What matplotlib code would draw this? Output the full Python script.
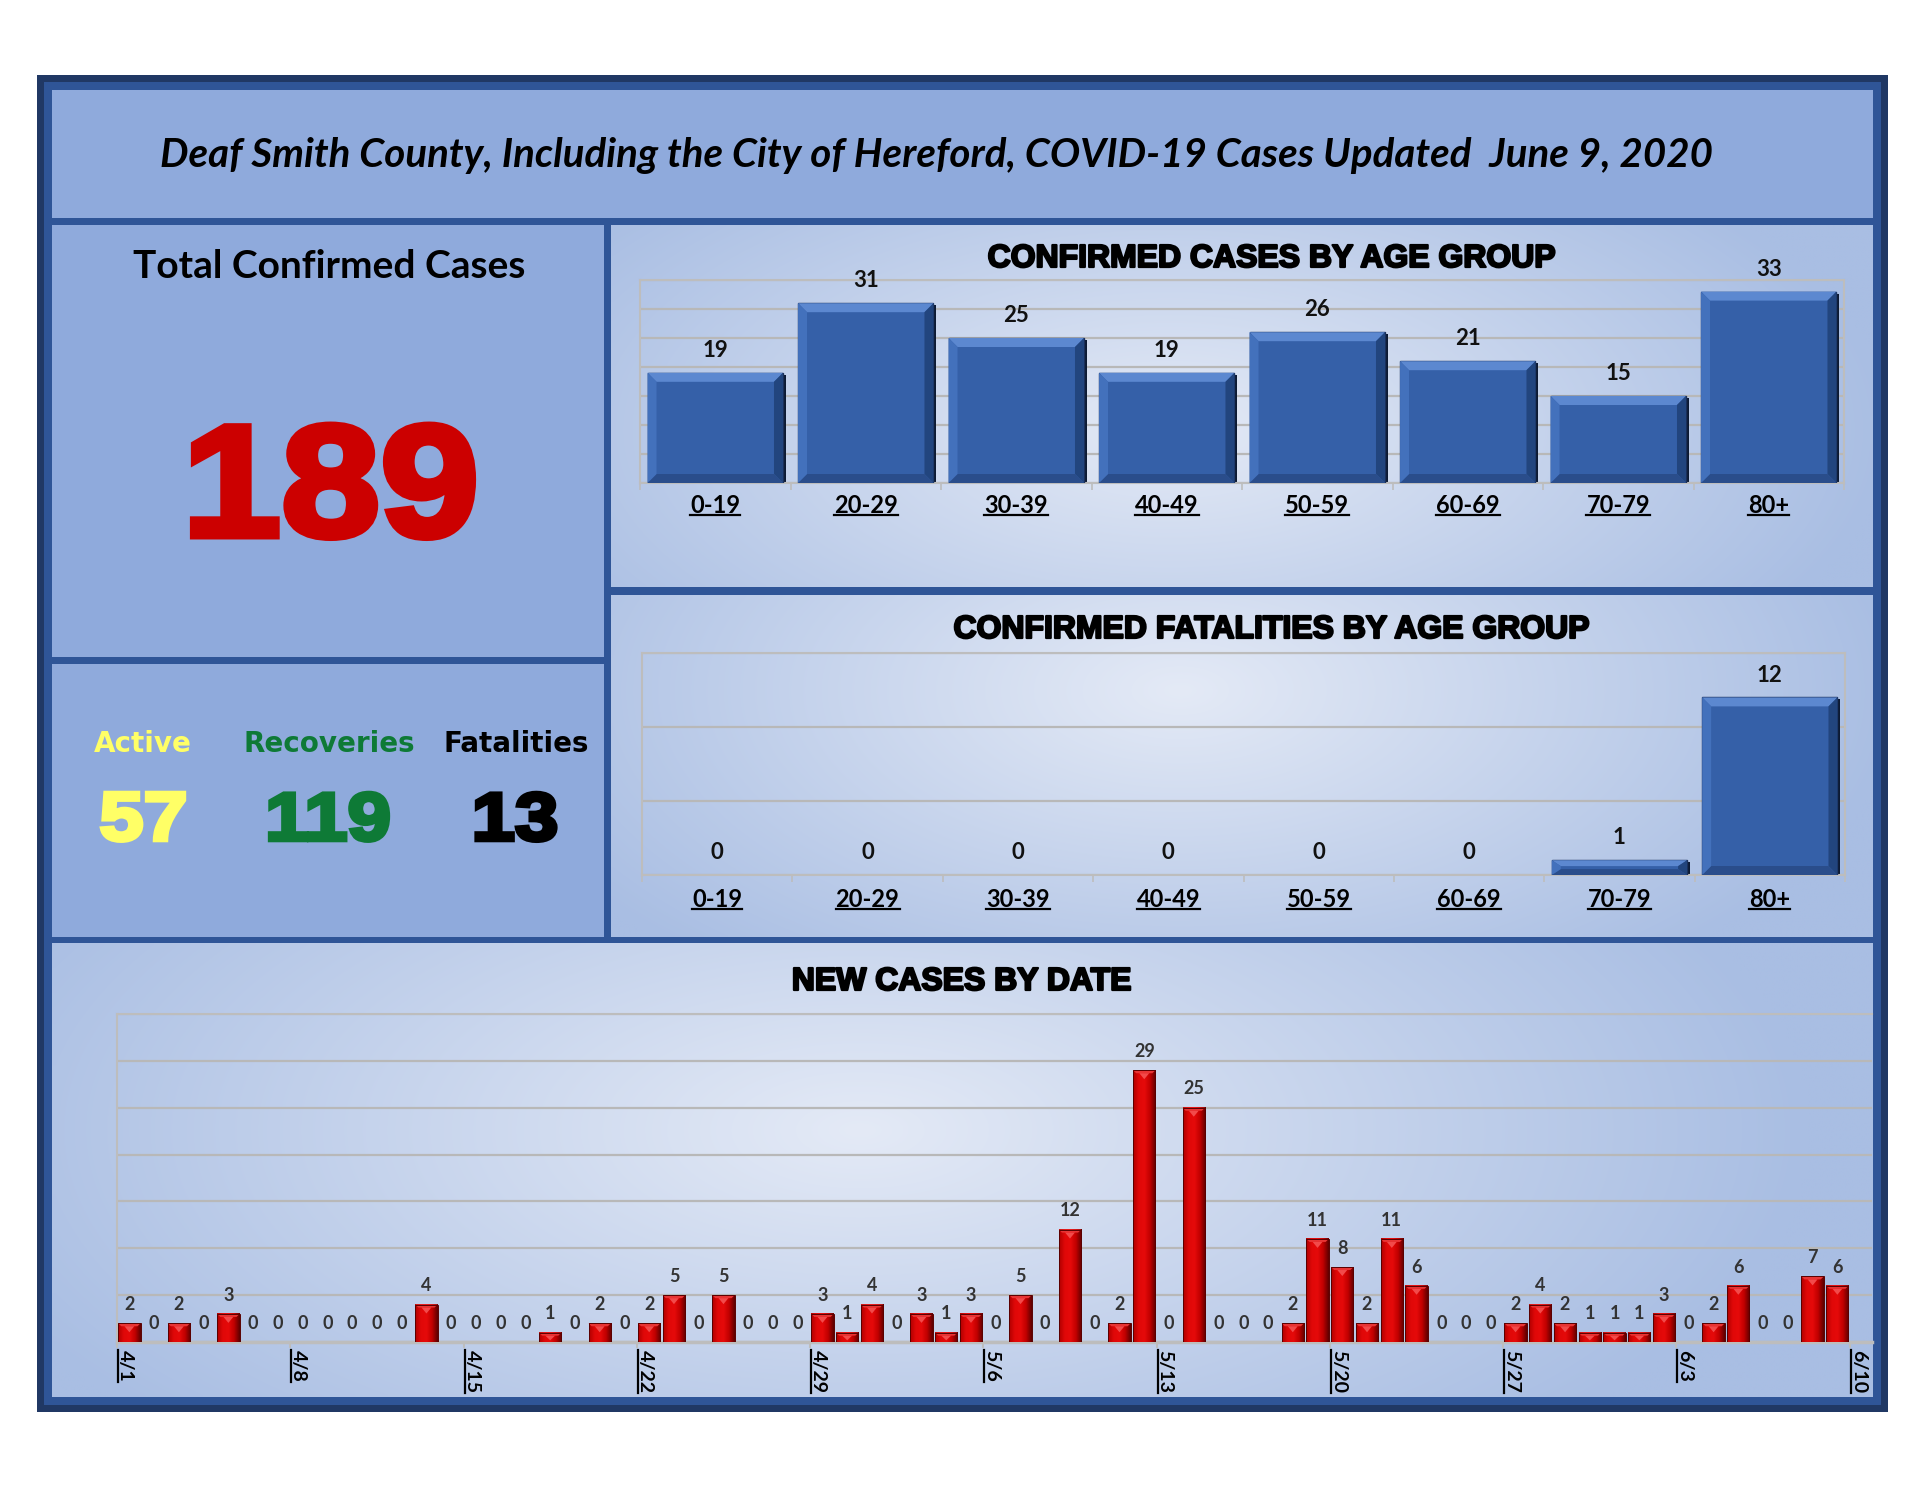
import numpy as np
import matplotlib
matplotlib.use('Agg')
import matplotlib.pyplot as plt
import matplotlib.patheffects as pe
from matplotlib.patches import Rectangle, Polygon, PathPatch
from matplotlib.lines import Line2D
from matplotlib.colors import LinearSegmentedColormap, to_rgb
from matplotlib.transforms import IdentityTransform, Affine2D
from matplotlib.textpath import TextPath
from matplotlib.font_manager import FontProperties

W, H = 1925, 1489

# ---- data ----
title_text = 'Deaf Smith County, Including the City of Hereford, COVID-19 Cases Updated  June 9, 2020'
age_groups = ['0-19', '20-29', '30-39', '40-49', '50-59', '60-69', '70-79', '80+']
cases_by_age = [19, 31, 25, 19, 26, 21, 15, 33]
deaths_by_age = [0, 0, 0, 0, 0, 0, 1, 12]
total_cases = 189
active = 57
recoveries = 119
fatalities = 13
# daily new cases 4/1 .. 6/9
new_cases = [2, 0, 2, 0, 3, 0, 0,     # 4/1-4/7
             0, 0, 0, 0, 0, 4, 0,     # 4/8-4/14
             0, 0, 0, 1, 0, 2, 0,     # 4/15-4/21
             2, 5, 0, 5, 0, 0, 0,     # 4/22-4/28
             3, 1, 4, 0, 3, 1, 3,     # 4/29-5/5
             0, 5, 0, 12, 0, 2, 29,   # 5/6-5/12
             0, 25, 0, 0, 0, 2, 11,   # 5/13-5/19
             8, 2, 11, 6, 0, 0, 0,    # 5/20-5/26
             2, 4, 2, 1, 1, 1, 3,     # 5/27-6/2
             0, 2, 6, 0, 0, 7, 6]     # 6/3-6/9
date_ticks = ['4/1', '4/8', '4/15', '4/22', '4/29', '5/6', '5/13', '5/20', '5/27', '6/3', '6/10']

PANEL = '#8FAADC'
SEP = '#2F5597'
NAVY = '#203864'


def fig_box(x0, y0, x1, y1):
    return [x0 / W, 1 - y1 / H, (x1 - x0) / W, (y1 - y0) / H]


def gradient(ax, x0, y0, x1, y1, cx, cy, rx, ry, inner='#E4EAF6', outer='#A9BEE3'):
    xs = np.linspace(x0, x1, 240)
    ys = np.linspace(y0, y1, 120)
    X, Y = np.meshgrid(xs, ys)
    t = np.clip(np.sqrt(((X - cx) / rx) ** 2 + ((Y - cy) / ry) ** 2), 0, 1)[..., None]
    img = np.array(to_rgb(inner)) * (1 - t) + np.array(to_rgb(outer)) * t
    ax.imshow(img, extent=(x0, x1, y1, y0), origin='upper', aspect='auto',
              interpolation='bilinear', zorder=1)


def big_number(ax, s, xc, baseline, height, color, stretch=1.12, stroke=4):
    # heavy, slightly widened digits (the original uses Arial Black)
    fp = FontProperties(family='Liberation Sans', weight='bold')
    tp = TextPath((0, 0), s, size=100, prop=fp)
    ext = tp.get_extents()
    k = (height - stroke * 1.2) / ext.y1
    tr = Affine2D().translate(-(ext.x0 + ext.x1) / 2, 0).scale(k * stretch, -k).translate(xc, baseline - stroke * 0.6)
    ax.add_patch(PathPatch(tr.transform_path(tp), fc=color, ec=color, lw=stroke, zorder=5))


def px_per_unit(ax):
    pos = ax.get_position()
    x0, x1 = ax.get_xlim()
    y0, y1 = ax.get_ylim()
    return pos.width * W / (x1 - x0), pos.height * H / (y1 - y0)


def blue_bars(ax, vals, w=0.9, bev=9):
    sx, sy = px_per_unit(ax)
    for i, v in enumerate(vals):
        if v <= 0:
            continue
        l, r = i - w / 2, i + w / 2
        bx = bev / sx
        by = min(bev / sy, v / 2.5)
        ax.add_patch(Rectangle((l + 3 / sx, 0), w, v - 2 / sy, fc='#0D1A33', ec='none', zorder=2.5))
        ax.add_patch(Rectangle((l, 0), w, v, fc='#3560A8', ec='#1A2F5A', lw=1, zorder=3))
        ax.add_patch(Polygon([(l, v), (r, v), (r - bx, v - by), (l + bx, v - by)], fc='#5C88D0', ec='none', zorder=3.1))
        ax.add_patch(Polygon([(r, v), (r, 0), (r - bx, by), (r - bx, v - by)], fc='#22457E', ec='none', zorder=3.1))
        ax.add_patch(Polygon([(l, 0), (r, 0), (r - bx, by), (l + bx, by)], fc='#2A4D8B', ec='none', zorder=3.1))
        ax.add_patch(Polygon([(l, 0), (l, v), (l + bx, v - by), (l + bx, by)], fc='#4371BC', ec='none', zorder=3.1))


red_cmap = LinearSegmentedColormap.from_list('redbar', ['#B00000', '#E00808', '#E60A0A', '#C00000', '#5E0000'])


def red_bars(ax, vals, w=0.9):
    sx, sy = px_per_unit(ax)
    grad = np.linspace(0, 1, 64).reshape(1, -1)
    for i, v in enumerate(vals):
        if v <= 0:
            continue
        l, r = i - w / 2, i + w / 2
        ax.imshow(grad, cmap=red_cmap, extent=(l, r, 0, v), aspect='auto',
                  interpolation='bilinear', zorder=3)
        ax.add_patch(Rectangle((l, 0), w, v, fc='none', ec='#5A0000', lw=0.7, zorder=3.2))
        bx = 3 / sx
        by = min(3 / sy, v / 3)
        ax.add_patch(Polygon([(l, v), (r, v), (r - bx, v - by), (l + bx, v - by)], fc='#E83434', ec='none', zorder=3.1))
        th = min(6 / sy, v / 2)
        ax.add_patch(Polygon([(i - w * 0.22, v - by), (i + w * 0.22, v - by), (i, v - by - th)],
                             fc='#F24A4A', ec='none', zorder=3.1))


def style_axes(ax, spines=('left', 'top', 'right', 'bottom')):
    ax.patch.set_alpha(0)
    for s in ax.spines:
        ax.spines[s].set_visible(s in spines)
        ax.spines[s].set_color('#BDBDBD')
        ax.spines[s].set_linewidth(1.5)
    ax.set_axisbelow(True)
    ax.yaxis.grid(True, color='#B8B8B8', lw=1.6)
    ax.tick_params(axis='y', left=False, labelleft=False)


fig = plt.figure(figsize=(W / 100, H / 100), dpi=100)
fig.patch.set_facecolor('white')
bg = fig.add_axes([0, 0, 1, 1])
bg.set_xlim(0, W)
bg.set_ylim(H, 0)
bg.axis('off')

# frame and panels
bg.add_patch(Rectangle((37, 75), 1851, 1337, fc=NAVY, ec='none', zorder=0))
bg.add_patch(Rectangle((44, 82), 1837, 1323, fc=SEP, ec='none', zorder=0.2))
bg.add_patch(Rectangle((52, 90), 1821, 128, fc=PANEL, ec='none', zorder=0.5))
bg.add_patch(Rectangle((52, 225), 552, 432, fc=PANEL, ec='none', zorder=0.5))
bg.add_patch(Rectangle((52, 664), 552, 273, fc=PANEL, ec='none', zorder=0.5))
gradient(bg, 611, 225, 1873, 587, 1170, 430, 720, 340)
gradient(bg, 611, 595, 1873, 937, 1180, 690, 720, 360)
gradient(bg, 52, 943, 1873, 1397, 860, 1130, 950, 430)
bg.set_xlim(0, W)
bg.set_ylim(H, 0)

# header and left panels
bg.text(936, 167, title_text, ha='center', va='baseline', fontsize=29,
        fontfamily='Lato', fontweight='bold', fontstyle='italic', color='black', zorder=5)
bg.text(329, 278, 'Total Confirmed Cases', ha='center', va='baseline', fontsize=28,
        fontfamily='Lato', fontweight='bold', color='black', zorder=5)
big_number(bg, str(total_cases), 333, 539, 117, '#CC0000', stroke=5)

summary = [('Active', active, '#FFFF66', 143), ('Recoveries', recoveries, '#0E7A36', 329),
           ('Fatalities', fatalities, 'black', 516)]
for name, val, col, xc in summary:
    bg.text(xc, 752, name, ha='center', va='baseline', fontsize=20, fontfamily='DejaVu Sans',
            fontweight='bold', color=col, zorder=5)
    big_number(bg, str(val), xc, 842, 51, col, stretch=1.15, stroke=3)

title_kw = dict(ha='center', va='baseline', fontsize=23, fontfamily='Liberation Sans',
                fontweight='bold', color='black', zorder=5,
                path_effects=[pe.withStroke(linewidth=1.6, foreground='black')])
bg.text(1272, 267, 'CONFIRMED CASES BY AGE GROUP', **title_kw)
bg.text(1272, 638, 'CONFIRMED FATALITIES BY AGE GROUP', **title_kw)
bg.text(962, 990, 'NEW CASES BY DATE', **title_kw)

x_age = np.arange(len(age_groups))
label_kw = dict(fontfamily='Lato', fontweight='bold')

# cases by age
ax1 = fig.add_axes(fig_box(640, 280, 1844, 483))
style_axes(ax1)
ax1.set_xlim(-0.5, len(age_groups) - 0.5)
ax1.set_ylim(0, 35)
ax1.set_yticks(np.arange(0, 36, 5))
blue_bars(ax1, cases_by_age)
for i, v in enumerate(cases_by_age):
    ax1.annotate(str(v), (i, v), xytext=(0, 16), textcoords='offset points', ha='center',
                 va='center', fontsize=16, color='#111111', zorder=6, **label_kw)
ax1.set_xticks(x_age)
ax1.set_xticklabels(age_groups, fontsize=17, **label_kw)
ax1.set_xticks(np.arange(-0.5, len(age_groups), 1), minor=True)
ax1.tick_params(axis='x', which='major', length=0, pad=8)
ax1.tick_params(axis='x', which='minor', length=5, color='#BDBDBD', width=1.2)

# fatalities by age
ax2 = fig.add_axes(fig_box(642, 653, 1845, 875))
style_axes(ax2)
ax2.set_xlim(-0.5, len(age_groups) - 0.5)
ax2.set_ylim(0, 15)
ax2.set_yticks(np.arange(0, 16, 5))
blue_bars(ax2, deaths_by_age)
for i, v in enumerate(deaths_by_age):
    ax2.annotate(str(v), (i, v), xytext=(0, 16), textcoords='offset points', ha='center',
                 va='center', fontsize=16, color='#111111', zorder=6, **label_kw)
ax2.set_xticks(x_age)
ax2.set_xticklabels(age_groups, fontsize=17, **label_kw)
ax2.set_xticks(np.arange(-0.5, len(age_groups), 1), minor=True)
ax2.tick_params(axis='x', which='major', length=0, pad=9)
ax2.tick_params(axis='x', which='minor', length=5, color='#BDBDBD', width=1.2)

# new cases by date
ax3 = fig.add_axes(fig_box(117, 1014, 1872, 1342))
style_axes(ax3, spines=('left', 'top', 'bottom'))
ax3.spines['bottom'].set_linewidth(2.5)
ax3.set_xlim(-0.5, len(new_cases) + 0.4)
ax3.set_ylim(0, 35)
ax3.set_yticks(np.arange(0, 36, 5))
red_bars(ax3, new_cases)
ax3.set_xlim(-0.5, len(new_cases) + 0.4)
ax3.set_ylim(0, 35)
ax3.set_aspect('auto')
for i, v in enumerate(new_cases):
    ax3.annotate(str(v), (i, v), xytext=(0, 13.5), textcoords='offset points', ha='center',
                 va='center', fontsize=13, color='#333333', zorder=6, **label_kw)
ax3.set_xticks(np.arange(len(date_ticks)) * 7 - 0.5)
ax3.set_xticklabels(date_ticks, rotation=-90, ha='left', fontsize=14, **label_kw)
ax3.tick_params(axis='x', length=4, color='#BDBDBD', width=1.5, pad=2)

# underline the category and date labels
fig.canvas.draw()
renderer = fig.canvas.get_renderer()
for ax in (ax1, ax2):
    for t in ax.get_xticklabels():
        bb = t.get_window_extent(renderer)
        fig.add_artist(Line2D([bb.x0, bb.x1], [bb.y0 + 2, bb.y0 + 2], transform=IdentityTransform(),
                              color='black', lw=1.6))
for t in ax3.get_xticklabels():
    bb = t.get_window_extent(renderer)
    fig.add_artist(Line2D([bb.x0 + 1, bb.x0 + 1], [bb.y0, bb.y1], transform=IdentityTransform(),
                          color='black', lw=1.6))

fig.savefig('out.png', dpi=100, facecolor='white')
